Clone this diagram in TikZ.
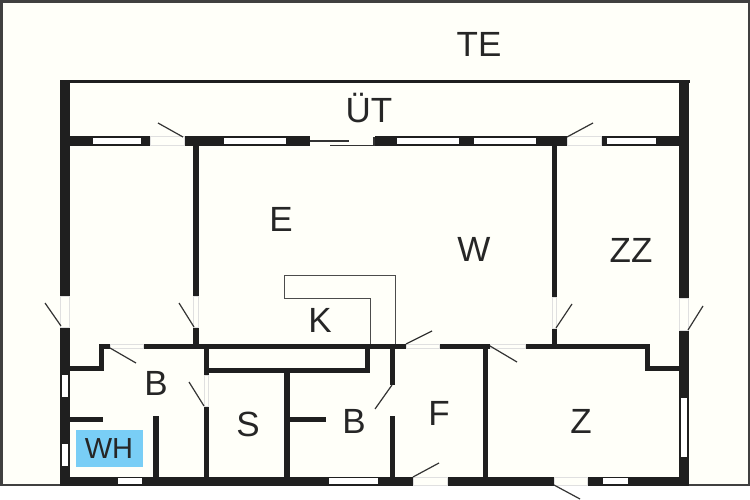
\documentclass[tikz,border=0pt]{standalone}
\usepackage{fontspec}
\setmainfont{Liberation Sans}
\definecolor{paper}{HTML}{FFFFF9}
\definecolor{boiler}{HTML}{79CEF6}
\tikzset{
	wall/.style={fill=black!88,draw=none},
	glass/.style={fill=white,draw=none},
	opening/.style={fill=paper,draw=black!12,line width=0.5pt},
	leaf/.style={draw=black!80,line width=1.2pt},
	room/.style={inner sep=0pt,text=black!85,font=\fontsize{35}{35}\selectfont},
}
\begin{document}
\begin{tikzpicture}[x=1pt,y=-1pt]
	\useasboundingbox (0,0)rectangle(750,500);
	\fill[white] (0,0)rectangle(750,500);
	\fill[paper] (0,0)rectangle(750,485);
	\fill[black!75] (0,0)rectangle(750,3);
	\fill[black!75] (0,0)rectangle(2.5,486);
	\fill[black!75] (747.5,0)rectangle(750,486);
	\fill[black!75] (0,483.5)rectangle(750,486);
	\fill[wall] (60,80)rectangle(690,83);
	\fill[wall] (60,80)rectangle(70,296);
	\fill[wall] (60,327)rectangle(70,486);
	\fill[wall] (679,80)rectangle(689,298);
	\fill[wall] (679,330)rectangle(689,486);
	\fill[wall] (60,136)rectangle(150,146);
	\fill[wall] (184,136)rectangle(310,146);
	\fill[wall] (375,136)rectangle(567,146);
	\fill[wall] (601,136)rectangle(689,146);
	\fill[wall] (60,477)rectangle(413,486);
	\fill[wall] (447,477)rectangle(554,486);
	\fill[wall] (587,477)rectangle(689,486);
	\fill[wall] (193,146)rectangle(199,296);
	\fill[wall] (193,327)rectangle(199,346);
	\fill[wall] (552,146)rectangle(557,297);
	\fill[wall] (552,328)rectangle(557,346);
	\fill[wall] (99,344)rectangle(110,349);
	\fill[wall] (99,344)rectangle(104,371);
	\fill[wall] (70,366)rectangle(104,371);
	\fill[wall] (143,344)rectangle(406,349);
	\fill[wall] (439,344)rectangle(490,349);
	\fill[wall] (525,344)rectangle(650,349);
	\fill[wall] (645,344)rectangle(650,371);
	\fill[wall] (645,366)rectangle(680,371);
	\fill[wall] (204,344)rectangle(209,375);
	\fill[wall] (204,406)rectangle(209,477);
	\fill[wall] (204,368)rectangle(370,373);
	\fill[wall] (365,344)rectangle(370,373);
	\fill[wall] (284,373)rectangle(290,477);
	\fill[wall] (290,417)rectangle(326,422);
	\fill[wall] (390,349)rectangle(395,385);
	\fill[wall] (390,416)rectangle(395,477);
	\fill[wall] (483,349)rectangle(488,477);
	\fill[wall] (70,417)rectangle(103,422);
	\fill[wall] (153,416)rectangle(159,477);
	\fill[glass] (93,138)rectangle(141,144);
	\fill[glass] (224,138)rectangle(286,144);
	\fill[glass] (397,138)rectangle(459,144);
	\fill[glass] (474,138)rectangle(536,144);
	\fill[glass] (607,138)rectangle(656,144);
	\fill[glass] (62,375)rectangle(68,397);
	\fill[glass] (62,444)rectangle(68,466);
	\fill[glass] (681,398)rectangle(687,457);
	\fill[glass] (118,478)rectangle(142,484);
	\fill[glass] (329,478)rectangle(378,484);
	\fill[glass] (603,478)rectangle(628,484);
	\draw[opening] (150,136.5)rectangle(184,145.5);
	\draw[opening] (567,136.5)rectangle(601,145.5);
	\draw[opening] (60.5,296)rectangle(69.5,327);
	\draw[opening] (193.5,296)rectangle(198.5,327);
	\draw[opening] (552.5,297)rectangle(556.5,328);
	\draw[opening] (679.5,298)rectangle(688.5,330);
	\draw[opening] (110,344.5)rectangle(143,348.5);
	\draw[opening] (406,344.5)rectangle(439,348.5);
	\draw[opening] (490,344.5)rectangle(525,348.5);
	\draw[opening] (204.5,375)rectangle(208.5,406);
	\draw[opening] (413,477.5)rectangle(447,485.5);
	\draw[opening] (554,477.5)rectangle(587,485.5);
	\draw[leaf] (310,141)--(349,141);
	\draw[leaf] (330,145.5)--(374,145.5)--(374,137);
	\draw[leaf] (183,137)--(158,123);
	\draw[leaf] (567,137)--(593,123);
	\draw[leaf] (61,326)--(45,303);
	\draw[leaf] (194,327)--(179,303);
	\draw[leaf] (110,348)--(136,363);
	\draw[leaf] (204,406)--(189,382);
	\draw[leaf] (406,344)--(432,331);
	\draw[leaf] (392,385)--(375,409);
	\draw[leaf] (413,477)--(439,463);
	\draw[leaf] (490,346)--(517,362);
	\draw[leaf] (556,328)--(572,304);
	\draw[leaf] (688,330)--(703,306);
	\draw[leaf] (554,485)--(580,499);
	\draw[black!70,line width=1pt] (370,344)--(370,298)--(284,298)--(284,275)--(395,275)--(395,344);
	\fill[boiler] (76,430)rectangle(143,467);
	\node[room] (te) at (479,44) {TE};
	\node[room] (ut) at (369,108) {ÜT};
	\node[room] (e) at (281,219) {E};
	\node[room] (w) at (474,249) {W};
	\node[room] (zz) at (631,250) {ZZ};
	\node[room] (k) at (320,320) {K};
	\node[room] (b) at (156,383) {B};
	\node[room] (s) at (248,424) {S};
	\node[room] (bb) at (354,421) {B};
	\node[room] (f) at (439,413) {F};
	\node[room] (z) at (581,421) {Z};
	\node[room,font=\fontsize{29}{29}\selectfont] (wh) at (109,449) {WH};
\end{tikzpicture}
\end{document}
